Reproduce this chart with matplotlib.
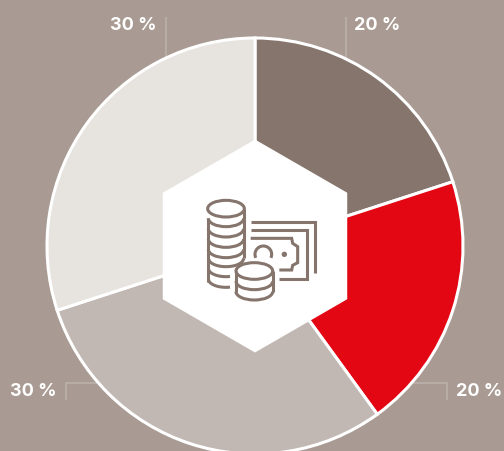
import numpy as np
import matplotlib
matplotlib.use("Agg")
import matplotlib.pyplot as plt
from matplotlib.patches import Polygon, Ellipse, Arc, Circle

shares = [20, 20, 30, 30]
slice_colors = ["#85756c", "#e30613", "#c2b8b3", "#e7e3df"]
labels = ["20 %", "20 %", "30 %", "30 %"]

BG = "#a99b93"
ICON = "#85756c"
H = 451
fig = plt.figure(figsize=(5.04, 4.51), dpi=100, facecolor=BG)
ax = fig.add_axes([0, 0, 1, 1])
ax.set_facecolor(BG)


def Y(y):
    return H - y


# leaders
lead = dict(color="#bdb2ac", lw=1.1, zorder=1, solid_capstyle="butt")
ax.plot([345.5, 345.5], [Y(17), Y(60)], **lead)
ax.plot([165.5, 165.5], [Y(17), Y(60)], **lead)
ax.plot([65.5, 65.5, 100], [Y(400), Y(383), Y(383)], **lead)
ax.plot([447, 447, 412], [Y(400), Y(383), Y(383)], **lead)

ax.pie(shares, colors=slice_colors, startangle=90, counterclock=False,
       center=(255, Y(246)), radius=208, frame=True,
       wedgeprops=dict(edgecolor="white", linewidth=2.2, zorder=2))

# hexagon
ang = np.deg2rad(np.arange(90, 450, 60))
ax.add_patch(Polygon(np.c_[255 + 106.5 * np.cos(ang), Y(246) + 106.5 * np.sin(ang)],
                     closed=True, fc="white", ec="none", zorder=3))

LW = 2.2
st = dict(color=ICON, lw=LW, zorder=4, solid_capstyle="butt", solid_joinstyle="miter")


def z(px, py):
    """icon coordinates measured on the 3x crop"""
    return 150 + px / 3, Y(130 + py / 3)


def poly(pts):
    xs, ys = zip(*[z(*p) for p in pts])
    ax.plot(xs, ys, **st)


def arc(cx, cy, rx, ry, t1=180, t2=360):
    x, y = z(cx, cy)
    ax.add_patch(Arc((x, y), 2 * rx / 3, 2 * ry / 3, theta1=t1, theta2=t2,
                     color=ICON, lw=LW, zorder=4))


# big stack
x, y = z(228, 236)
ax.add_patch(Ellipse((x, y), 110 / 3, 50 / 3, fc="none", ec=ICON, lw=LW, zorder=4))
poly([(175, 265), (175, 455)])
poly([(282, 236), (282, 385)])
for cy in (265, 296, 327, 358):
    arc(228, cy, 53, 25)
# truncated lower coins
for cy, xe in ((385, 282), (415, 240), (447, 240)):
    xs = np.linspace(175, xe, 30)
    ys = cy + 25 * np.sqrt(np.clip(1 - ((xs - 228) / 53) ** 2, 0, 1))
    poly(list(zip(xs, ys)))

# small stack
x, y = z(313, 423)
ax.add_patch(Ellipse((x, y), 110 / 3, 50 / 3, fc="white", ec=ICON, lw=LW, zorder=4))
poly([(258, 423), (258, 487)])
poly([(368, 423), (368, 487)])
for cy in (454, 485):
    arc(313, cy, 55, 25)

# banknotes
poly([(302, 275), (495, 275), (495, 428)])
poly([(302, 300), (470, 300), (470, 448), (388, 448)])
poly([(302, 325), (425, 325), (428, 340), (443, 350), (443, 398), (428, 406), (425, 420), (388, 420)])
arc(340, 373, 25, 25, -25, 205)
x, y = z(403, 373)
ax.add_patch(Circle((x, y), 2.7, fc=ICON, ec="none", zorder=4))

# labels
tx = dict(color="white", fontsize=13, fontweight="bold", family="Inter",
          va="center", zorder=5)
ax.text(354, Y(25.5), labels[0], ha="left", **tx)
ax.text(456, Y(391), labels[1], ha="left", **tx)
ax.text(56, Y(392), labels[2], ha="right", **tx)
ax.text(157, Y(25.5), labels[3], ha="right", **tx)

ax.set_xlim(0, 504)
ax.set_ylim(0, H)
ax.set_aspect("equal")
ax.axis("off")
fig.savefig("out.png", dpi=100, facecolor=BG)
